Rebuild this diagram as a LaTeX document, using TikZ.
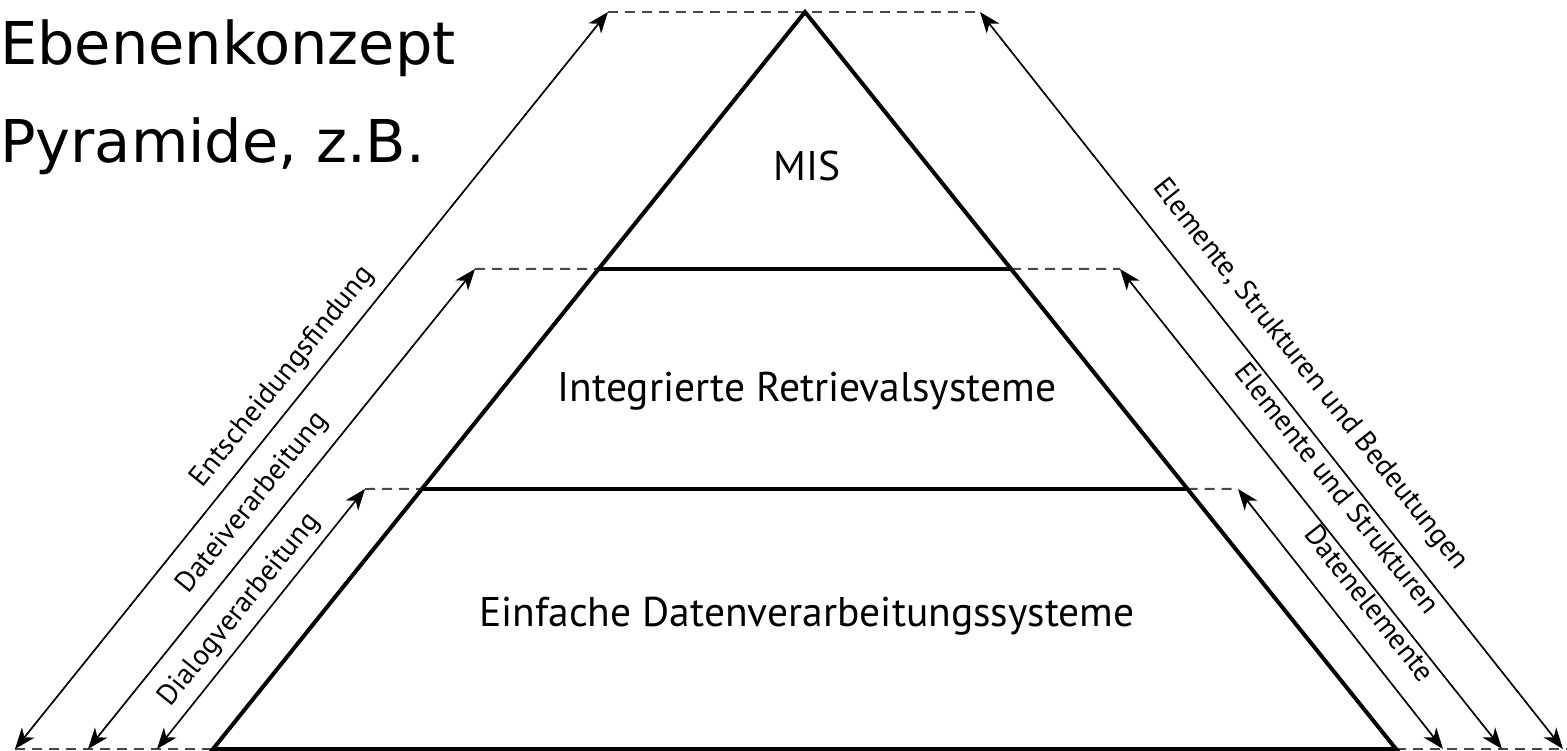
\documentclass[tikz,border=0pt]{standalone}
\usepackage{fontspec}
\setmainfont{PT Sans}
\newfontfamily\titlefont{DejaVu Sans}
\usetikzlibrary{arrows.meta,calc}
\begin{document}
\begin{tikzpicture}[x=1pt,y=-1pt,
  pyr/.style={line width=4pt, line join=miter},
  lvl/.style={line width=4pt},
  dsh/.style={line width=2pt, dash pattern=on 10pt off 7pt, draw=black!72},
  arr/.style={line width=1.7pt,
    {Stealth[length=21pt,width=16pt,inset=6pt]}-{Stealth[length=21pt,width=16pt,inset=6pt]}},
  mainlbl/.style={inner sep=0pt, anchor=base, font=\fontsize{41.5}{49}\selectfont},
  sidelbl/.style={inner sep=0pt, anchor=center, font=\fontsize{29}{35}\selectfont},
  ttl/.style={inner sep=0pt, anchor=base west, font=\titlefont\fontsize{59}{70}\selectfont},
]
\useasboundingbox (0,0) rectangle (1567,751);

% pyramid corners
\coordinate (apex) at (805,12);
\coordinate (bl) at (213,749);
\coordinate (br) at (1396,749);
\coordinate (l1L) at ($(apex)!0.3487!(bl)$);
\coordinate (l1R) at ($(apex)!0.3487!(br)$);
\coordinate (l2L) at ($(apex)!0.6472!(bl)$);
\coordinate (l2R) at ($(apex)!0.6472!(br)$);

% arrow end points
\coordinate (a1t) at (608,12);   \coordinate (a1b) at (15,749);
\coordinate (a2t) at (475,269);  \coordinate (a2b) at (88,749);
\coordinate (a3t) at (365,489);  \coordinate (a3b) at (157,749);
\coordinate (b1t) at (980,12);   \coordinate (b1b) at (1563,749);
\coordinate (b2t) at (1120,269); \coordinate (b2b) at (1502,749);
\coordinate (b3t) at (1238,489); \coordinate (b3b) at (1443,749);
\coordinate (rend) at (1567,749);

% dashed guide lines
\draw[dsh] (a1t) -- (b1t);
\draw[dsh] (a2t) -- (l1L);
\draw[dsh] (l1R) -- (b2t);
\draw[dsh] (a3t) -- (l2L);
\draw[dsh] (l2R) -- (b3t);
\draw[dsh] (a1b) -- (bl);
\draw[dsh] (br) -- (rend);

% pyramid
\draw[pyr] (bl) -- (apex) -- (br) -- cycle;
\draw[lvl] (l1L) -- (l1R);
\draw[lvl] (l2L) -- (l2R);

% arrows
\draw[arr] (a1b) -- (a1t);
\draw[arr] (a2b) -- (a2t);
\draw[arr] (a3b) -- (a3t);
\draw[arr] (b1t) -- (b1b);
\draw[arr] (b2t) -- (b2b);
\draw[arr] (b3t) -- (b3b);

% level labels
\node[mainlbl] (mis) at (807,181) {MIS};
\node[mainlbl] (irs) at (807,402) {Integrierte Retrievalsysteme};
\node[mainlbl] (eds) at (807,626) {Einfache Datenverarbeitungssysteme};

% side labels
\node[sidelbl, rotate=51.2] (ent) at (283,377) {Entscheidungsfindung};
\node[sidelbl, rotate=51.2] (dat) at (253,503) {Dateiverarbeitung};
\node[sidelbl, rotate=51.2] (dia) at (240,610) {Dialogverarbeitung};
\node[sidelbl, rotate=-51.6] (esb) at (1310,375) {Elemente, Strukturen und Bedeutungen};
\node[sidelbl, rotate=-51.6] (eus) at (1338,488) {Elemente und Strukturen};
\node[sidelbl, rotate=-51.6] (del) at (1370,603) {Datenelemente};

% title
\node[ttl] (t1) at (0,65) {Ebenenkonzept};
\node[ttl] (t2) at (0,163) {Pyramide, z.B.};
\end{tikzpicture}
\end{document}
